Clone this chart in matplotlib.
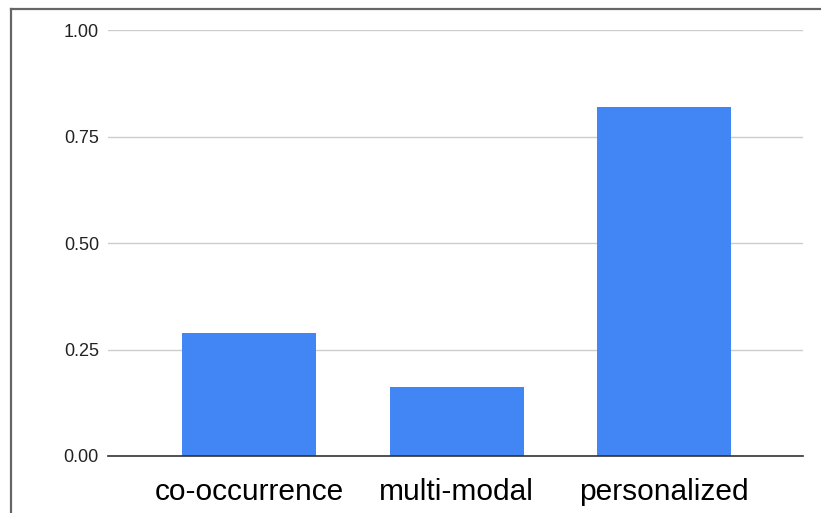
import matplotlib
matplotlib.use("Agg")
import matplotlib.pyplot as plt
from matplotlib.lines import Line2D

plt.rcParams['font.family'] = ['Liberation Sans', 'DejaVu Sans']

categories = ["co-occurrence", "multi-modal", "personalized"]
values = [0.289, 0.162, 0.819]
y_ticks = [0.0, 0.25, 0.5, 0.75, 1.0]
y_tick_labels = ["0.00", "0.25", "0.50", "0.75", "1.00"]

W, H = 821, 513
fig = plt.figure(figsize=(W / 100, H / 100), dpi=100)
fig.patch.set_facecolor("white")

ax = fig.add_axes([108 / W, (H - 456) / H, (803 - 108) / W, (456 - 30) / H])
x = list(range(len(categories)))
ax.bar(x, values, width=0.646, color="#4285f4", zorder=3)

ax.set_xlim(-0.68, 2.67)
ax.set_ylim(0, 1.0)
ax.set_yticks(y_ticks)
ax.set_yticklabels(y_tick_labels, fontsize=13, color="#222222")
ax.set_xticks(x)
ax.set_xticklabels(categories, fontsize=21.5, color="#000000")
ax.tick_params(axis="y", length=0, pad=6.5)
ax.tick_params(axis="x", length=0, pad=16)

ax.yaxis.grid(True, color="#cccccc", linewidth=1.0, zorder=0)
ax.set_axisbelow(True)
for s in ["top", "right", "left"]:
    ax.spines[s].set_visible(False)
ax.spines["bottom"].set_color("#333333")
ax.spines["bottom"].set_linewidth(1.2)
ax.spines["bottom"].set_zorder(4)

# outer frame lines along the left and top edges
fig.add_artist(Line2D([11 / W, 11 / W], [0, (H - 9) / H], color="#666666", linewidth=1.6))
fig.add_artist(Line2D([11 / W, 1.0], [(H - 9) / H, (H - 9) / H], color="#666666", linewidth=1.6))

fig.savefig("out.png", dpi=100, facecolor="white")
